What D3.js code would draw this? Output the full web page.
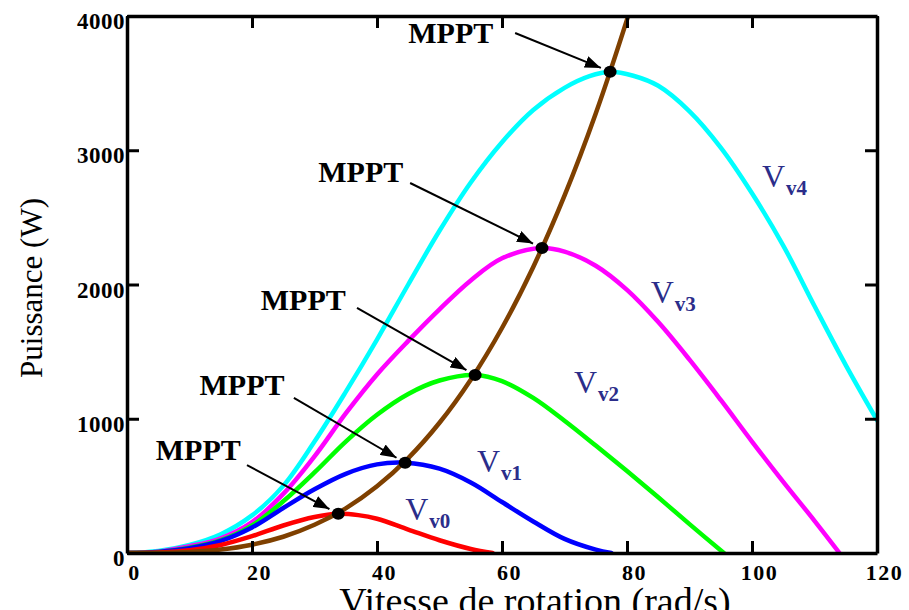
<!DOCTYPE html>
<html><head><meta charset="utf-8">
<script src="https://cdn.jsdelivr.net/npm/d3@7"></script>
<style>body{margin:0;background:#fff;} svg{display:block;}</style>
</head><body>
<svg id="chart" width="909" height="610"></svg>
<script>
// ---- data ----
const xTicks = [0, 20, 40, 60, 80, 100, 120];
const yTicks = [0, 1000, 2000, 3000, 4000];

const omegaV0 = [0, 5, 10, 15, 20, 25, 30, 33.8, 37, 40, 45, 50, 55, 58.5];
const powerV0 = [0, 4, 20, 60, 125, 205, 268, 292, 282, 255, 175, 95, 30, 0];

const omegaV1 = [0, 5, 10, 15, 20, 25, 30, 35, 40, 44.5, 50, 55, 60, 65, 70, 75, 77.5];
const powerV1 = [0, 8, 35, 90, 190, 335, 475, 590, 660, 672, 628, 525, 380, 235, 105, 25, 0];

const omegaV2 = [0, 5, 10, 15, 20, 25, 30, 35, 40, 45, 50, 55.7, 60, 65, 70, 75, 80, 85, 90, 95.5];
const powerV2 = [0, 8, 40, 95, 205, 385, 600, 830, 1030, 1185, 1285, 1326, 1280, 1155, 985, 800, 610, 415, 215, 0];

const omegaV3 = [0, 5, 10, 15, 20, 25, 30, 35, 40, 45, 50, 55, 60, 66.4, 70, 75, 80, 85, 90, 95, 100, 105, 110, 114];
const powerV3 = [0, 10, 50, 110, 230, 440, 720, 1040, 1330, 1580, 1815, 2030, 2195, 2272, 2245, 2140, 1960, 1720, 1440, 1140, 830, 530, 240, 0];

const omegaV4 = [0, 5, 10, 15, 20, 25, 30, 35, 40, 45, 50, 55, 60, 65, 70, 74, 77.3, 81, 85, 90, 95, 100, 105, 110, 115, 120];
const powerV4 = [0, 15, 60, 140, 280, 500, 830, 1200, 1590, 2000, 2400, 2760, 3060, 3300, 3465, 3552, 3585, 3555, 3480, 3290, 3020, 2680, 2290, 1840, 1400, 990];

const omegaOpt = [0, 5, 10, 15, 20, 25, 30, 35, 40, 45, 50, 55, 60, 65, 70, 75, 80, 82];
const powerOpt = [0, 1, 8, 26, 62, 121, 210, 333, 497, 707, 970, 1291, 1676, 2131, 2662, 3274, 3973, 4280];

const mpptOmega = [33.8, 44.5, 55.7, 66.4, 77.3];
const mpptPower = [292, 672, 1326, 2272, 3585];

const seriesNames = ["v0", "v1", "v2", "v3", "v4"];
const seriesOmega = [omegaV0, omegaV1, omegaV2, omegaV3, omegaV4];
const seriesPower = [powerV0, powerV1, powerV2, powerV3, powerV4];
const seriesColors = ["#ff0000", "#0000ff", "#00ff00", "#ff00ff", "#00ffff"];

// annotation anchors (data units)
const mpptLabelOmega = [11.4, 18.4, 28.2, 37.4, 51.8];
const mpptLabelPower = [693, 1177, 1810, 2763, 3799];
const arrowStartOmega = [19.2, 26.7, 36.8, 45.3, 62.1];
const arrowStartPower = [655, 1155, 1825, 2756, 3873];
const windLabelOmega = [44.5, 56, 71.5, 83.8, 101.6];
const windLabelPower = [246, 603, 1192, 1862, 2726];

// ---- drawing ----
const svg = d3.select("#chart");
const serif = "'Liberation Serif', 'Times New Roman', serif";
const x = d3.scaleLinear().domain([0, 120]).range([127, 877]);
const y = d3.scaleLinear().domain([0, 4000]).range([553, 16]);

const defs = svg.append("defs");
defs.append("clipPath").attr("id", "plot")
  .append("rect").attr("x", x(0)).attr("y", y(4000)).attr("width", x(120) - x(0)).attr("height", y(0) - y(4000));
defs.append("marker").attr("id", "arrow").attr("viewBox", "0 0 16 12")
  .attr("refX", 16).attr("refY", 6).attr("markerWidth", 16).attr("markerHeight", 12)
  .attr("markerUnits", "userSpaceOnUse").attr("orient", "auto")
  .append("path").attr("d", "M0,0 L16,6 L0,12 Z").attr("fill", "#000");

const line = d3.line().x(d => x(d[0])).y(d => y(d[1])).curve(d3.curveCatmullRom.alpha(0.5));
const plot = svg.append("g").attr("clip-path", "url(#plot)");

for (let i = 4; i >= 0; i--) {
  const pts = seriesOmega[i].map((w, j) => [w, seriesPower[i][j]]);
  plot.append("path").datum(pts).attr("d", line)
    .attr("fill", "none").attr("stroke", seriesColors[i]).attr("stroke-width", 4.5)
    .attr("stroke-linejoin", "round").attr("stroke-linecap", "round");
}
plot.append("path").datum(omegaOpt.map((w, j) => [w, powerOpt[j]])).attr("d", line)
  .attr("fill", "none").attr("stroke", "#7f4000").attr("stroke-width", 4.5).attr("stroke-linecap", "round");

// MPPT dots
svg.append("g").selectAll("ellipse").data(mpptOmega).join("ellipse")
  .attr("cx", d => x(d)).attr("cy", (d, i) => y(mpptPower[i]))
  .attr("rx", 6.5).attr("ry", 6).attr("fill", "#000");

// arrows + labels
mpptOmega.forEach((w, i) => {
  const x0 = x(arrowStartOmega[i]), y0 = y(arrowStartPower[i]);
  const x1 = x(w), y1 = y(mpptPower[i]);
  const len = Math.hypot(x1 - x0, y1 - y0);
  const gap = 10;
  svg.append("line").attr("x1", x0).attr("y1", y0)
    .attr("x2", x1 - (x1 - x0) / len * gap).attr("y2", y1 - (y1 - y0) / len * gap)
    .attr("stroke", "#000").attr("stroke-width", 2).attr("marker-end", "url(#arrow)");
  svg.append("text").attr("x", x(mpptLabelOmega[i])).attr("y", y(mpptLabelPower[i]))
    .attr("text-anchor", "middle").attr("font-family", serif).attr("font-weight", "bold")
    .attr("font-size", 30).attr("fill", "#000").text("MPPT");
});

// wind-speed labels
seriesNames.forEach((n, i) => {
  const t = svg.append("text").attr("x", x(windLabelOmega[i])).attr("y", y(windLabelPower[i]))
    .attr("font-family", serif).attr("fill", "#2b2d8a").attr("font-size", 32);
  t.append("tspan").text("V");
  t.append("tspan").attr("dy", 8).attr("dx", 1).attr("font-size", 21).attr("font-weight", "bold").text(n);
});

// axes
const fmt = d3.format("d");
const tickStyle = g => {
  g.select(".domain").attr("stroke", "#000").attr("stroke-width", 3.5);
  g.selectAll(".tick line").attr("stroke", "#000").attr("stroke-width", 3);
};
svg.append("g").attr("transform", `translate(0,${y(0)})`)
  .call(d3.axisBottom(x).tickValues(xTicks).tickFormat(fmt).tickSize(-12).tickSizeOuter(0).tickPadding(11))
  .call(tickStyle)
  .call(g => g.selectAll(".tick text").attr("dx", 7).attr("font-family", serif)
    .attr("font-weight", "bold").attr("font-size", 22).attr("letter-spacing", 1.5).attr("fill", "#000"));
svg.append("g").attr("transform", `translate(${x(0)},0)`)
  .call(d3.axisLeft(y).tickValues(yTicks).tickFormat(fmt).tickSize(-12).tickSizeOuter(0).tickPadding(2))
  .call(tickStyle)
  .call(g => g.selectAll(".tick text").attr("dy", "0.55em").attr("font-family", serif)
    .attr("font-weight", "bold").attr("font-size", 23).attr("letter-spacing", 0.5).attr("fill", "#000"));
svg.append("g").attr("transform", `translate(0,${y(4000)})`)
  .call(d3.axisTop(x).tickValues(xTicks).tickSize(-12).tickSizeOuter(0).tickFormat(""))
  .call(tickStyle);
svg.append("g").attr("transform", `translate(${x(120)},0)`)
  .call(d3.axisRight(y).tickValues(yTicks).tickSize(-12).tickSizeOuter(0).tickFormat(""))
  .call(tickStyle);

// axis titles
svg.append("text").attr("x", 535).attr("y", 614).attr("text-anchor", "middle")
  .attr("font-family", serif).attr("font-size", 38).attr("fill", "#000")
  .text("Vitesse de rotation (rad/s)");
svg.append("text").attr("transform", "translate(42,288) rotate(-90)").attr("text-anchor", "middle")
  .attr("font-family", serif).attr("font-size", 31).attr("fill", "#000")
  .text("Puissance (W)");
</script>
</body></html>
